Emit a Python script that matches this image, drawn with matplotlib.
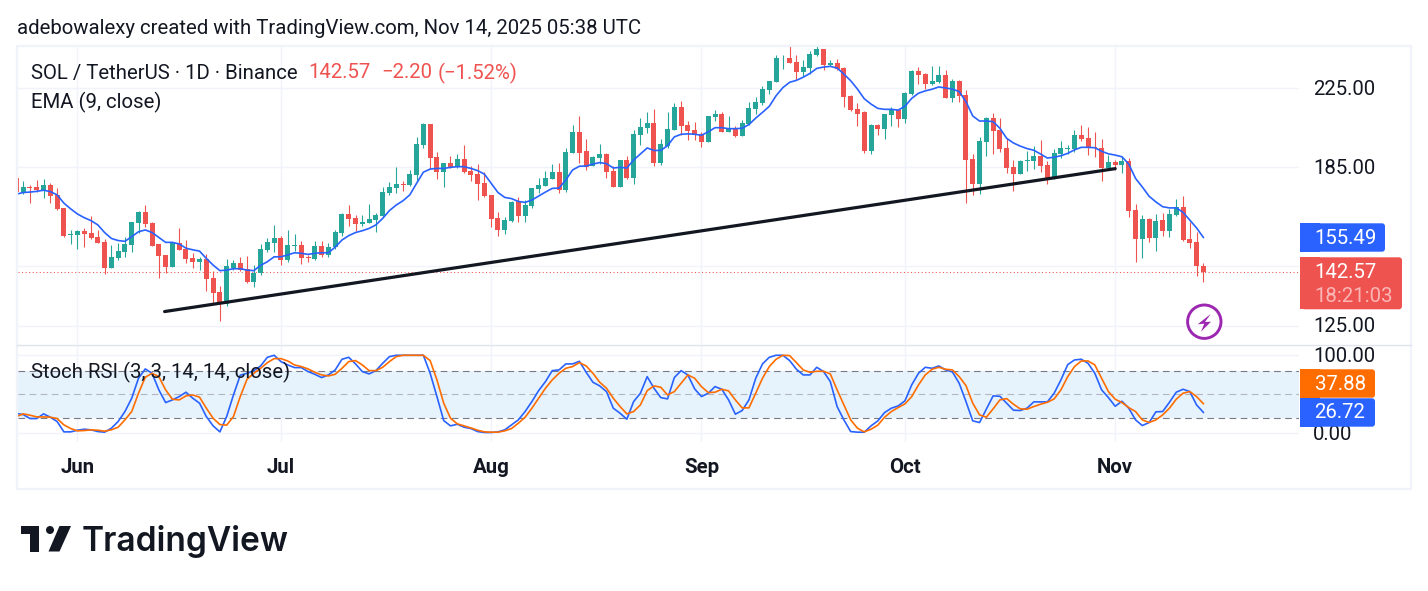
import numpy as np
import matplotlib
matplotlib.use("Agg")
import matplotlib.pyplot as plt
from matplotlib.patches import Rectangle, FancyBboxPatch, Circle, Polygon
from matplotlib.transforms import ScaledTranslation

plt.rcParams['font.family'] = ['Roboto', 'DejaVu Sans']

# days relative to Jun 1, 2025
first_day = -9

opens = [180.0,173.9,176.3,176.2,174.8,177.0,172.8,167.4,156.6,156.6,
         158.0,157.2,155.7,153.6,144.1,147.7,149.9,152.6,161.3,165.6,
         161.2,152.8,148.9,144.5,153.3,151.1,147.7,146.3,147.4,140.6,
         135.9,131.9,144.3,146.1,143.8,139.3,142.3,150.8,153.4,155.3,
         147.0,152.4,152.6,148.1,147.4,152.2,148.9,151.7,157.2,164.8,
         163.2,160.8,161.2,162.3,163.9,173.6,175.7,177.5,177.0,181.5,
         195.5,206.0,189.8,182.9,186.9,185.2,188.9,183.3,182.0,178.0,
         172.8,163.2,158.4,162.0,170.2,163.9,168.1,175.3,176.6,179.8,
         182.9,174.9,191.6,202.0,192.5,185.6,189.3,191.2,183.3,176.2,
         188.4,180.2,200.5,203.9,206.5,186.9,195.2,203.0,214.8,205.5,
         203.0,201.0,197.0,209.5,211.1,202.0,203.9,200.0,206.0,213.8,
         217.0,224.1,228.6,242.3,242.5,240.1,234.3,236.6,244.3,247.9,
         238.4,239.5,236.6,220.8,213.8,212.2,192.5,205.5,203.5,210.6,
         213.2,208.5,221.9,234.9,233.1,227.5,228.6,232.6,219.7,229.2,
         221.4,188.9,177.5,197.0,208.9,203.0,194.1,185.2,182.0,187.9,
         187.9,190.3,186.1,180.2,191.2,193.6,193.6,200.5,199.0,194.6,
         194.1,184.7,187.5,186.1,187.9,166.4,154.9,162.8,155.3,162.4,
         158.0,164.4,167.6,154.9,153.7,144.77]
closes = [174.2,176.2,175.9,174.9,177.0,172.3,166.9,156.2,156.8,158.0,
          157.0,155.1,153.4,144.1,148.0,150.4,153.0,161.6,165.6,160.8,
          152.2,148.5,144.6,153.5,150.9,147.4,146.3,147.4,140.3,135.4,
          131.9,144.8,146.1,143.4,139.3,142.5,151.1,153.7,155.3,147.0,
          152.6,152.6,147.7,147.7,152.2,148.9,151.9,157.6,164.8,162.8,
          160.8,161.6,162.8,164.4,174.0,176.2,177.5,177.0,182.0,196.0,
          206.0,189.3,182.9,186.9,185.2,188.9,182.9,181.5,177.5,172.3,
          162.9,158.4,162.4,169.8,163.9,168.5,175.7,177.0,180.2,182.9,
          174.9,192.1,202.0,191.9,185.2,189.8,191.2,182.9,176.2,188.4,
          180.2,201.0,204.4,206.5,186.9,196.0,203.5,214.8,204.9,202.4,
          200.5,197.0,210.1,211.1,202.0,203.6,200.0,206.5,214.3,217.5,
          224.6,229.2,242.5,242.7,239.5,234.3,237.2,244.9,247.9,238.4,
          239.5,236.0,220.2,213.2,211.1,192.5,205.5,203.5,211.1,213.8,
          208.5,222.5,234.9,232.6,227.5,229.2,232.6,219.7,229.2,220.8,
          188.4,177.5,197.5,208.9,202.4,193.6,184.7,182.0,187.9,188.4,
          190.3,185.6,180.2,191.6,194.1,194.1,200.5,198.5,194.1,194.1,
          184.7,187.5,186.1,187.9,166.0,154.9,162.8,155.3,162.0,158.0,
          164.8,167.6,154.5,153.4,144.8,142.57]
highs = [180.0,178.9,177.0,179.3,179.6,177.8,175.6,167.4,158.4,158.4,
         159.0,164.0,158.4,154.8,152.6,153.3,155.5,161.7,165.9,168.5,
         161.6,152.8,149.0,153.8,159.0,154.5,149.5,148.0,149.3,143.2,
         137.9,147.3,147.0,148.0,148.5,145.1,152.9,155.1,160.4,156.0,
         158.4,156.8,154.1,148.9,154.1,154.1,153.3,158.4,165.3,168.5,
         164.4,164.4,168.9,165.1,176.2,178.4,185.2,178.9,183.8,199.3,
         206.5,206.0,192.1,186.9,190.3,191.2,195.5,185.6,186.4,182.9,
         172.8,165.6,163.6,170.2,171.9,170.6,175.7,180.2,183.3,186.5,
         186.9,194.1,205.5,210.1,198.5,190.3,196.0,191.6,185.6,188.4,
         190.3,203.0,209.0,212.2,213.8,198.5,212.2,217.0,218.1,207.5,
         207.0,202.0,210.1,213.2,212.2,210.1,204.9,208.0,217.5,220.2,
         226.4,229.2,244.3,244.3,249.8,244.3,241.3,246.7,249.8,247.9,
         241.3,241.9,237.2,221.4,217.0,212.7,206.0,206.0,211.1,214.8,
         213.8,223.0,235.5,237.2,233.7,237.8,237.8,235.5,230.1,229.7,
         224.1,191.2,199.5,209.4,211.7,209.0,199.0,188.4,188.4,192.5,
         195.0,198.0,187.9,193.6,197.5,195.5,203.0,205.5,204.4,202.0,
         198.5,190.7,188.4,190.3,189.3,168.9,164.4,163.2,164.8,165.2,
         166.9,170.9,172.3,161.7,157.5,145.9]
lows = [174.2,173.2,169.3,174.2,171.6,169.3,166.5,155.8,152.8,151.1,
        151.9,154.8,153.4,142.1,144.1,147.0,148.2,149.9,157.4,159.7,
        152.2,140.6,142.5,144.5,150.8,146.0,144.1,143.4,136.3,132.3,
        126.4,131.3,143.4,143.1,139.0,137.6,141.7,149.9,149.8,145.2,
        146.4,150.3,145.5,146.4,147.1,148.2,148.1,151.1,156.0,160.0,
        158.0,160.0,161.0,157.6,163.7,172.8,173.6,174.4,176.7,178.6,
        194.2,184.1,179.8,176.2,184.7,184.7,182.4,178.9,170.6,171.7,
        159.7,156.2,157.0,161.7,161.6,161.7,167.4,173.6,176.6,179.8,
        173.6,174.0,191.6,186.9,183.8,185.6,186.5,180.2,176.2,176.2,
        179.8,177.5,195.5,201.4,185.6,186.1,194.1,203.0,200.5,198.0,
        198.0,194.5,197.0,207.5,202.0,201.8,199.5,200.0,205.5,211.1,
        215.9,221.9,228.6,236.0,239.3,229.7,232.0,233.1,243.7,235.5,
        237.8,235.5,215.0,212.7,204.9,191.6,191.2,200.5,198.5,204.9,
        204.4,206.5,221.4,227.5,224.6,227.0,228.1,219.7,217.5,217.5,
        169.3,172.8,173.2,190.3,191.2,192.1,182.4,174.4,181.9,183.3,
        184.2,182.9,177.5,179.8,189.3,191.2,192.1,197.5,190.7,189.8,
        178.9,183.8,183.8,182.4,163.6,146.3,147.7,153.7,150.3,156.0,
        155.7,164.0,154.1,151.5,141.4,139.1]
ema9 = [173.1,173.8,174.0,174.3,174.8,174.2,172.8,169.3,166.9,164.8,
        163.3,162.1,160.4,157.4,155.1,154.3,154.0,155.8,157.7,158.4,
        157.4,155.5,153.6,153.6,153.0,151.4,150.8,150.3,147.6,145.2,
        143.2,143.4,143.9,143.9,143.4,143.2,145.1,146.4,148.2,148.2,
        148.9,149.7,149.5,149.1,149.5,149.7,149.7,151.8,154.5,156.2,
        157.4,158.1,159.0,160.4,163.0,166.2,168.5,170.3,172.8,177.8,
        182.8,184.2,184.5,184.5,185.0,185.3,185.3,184.5,183.5,181.9,
        177.8,173.8,171.7,171.2,170.0,169.6,170.6,172.3,174.0,175.6,
        175.7,179.3,183.8,185.5,185.6,186.5,187.2,186.7,184.7,185.0,
        184.7,188.4,191.2,194.1,192.9,192.9,195.2,199.5,200.8,201.0,
        200.8,200.3,202.0,204.1,204.1,203.6,203.6,203.8,205.7,209.0,
        212.0,215.2,220.9,225.4,228.4,229.5,231.3,233.5,236.4,237.2,
        237.6,236.6,233.1,229.3,224.6,219.3,216.4,214.1,213.6,213.6,
        213.2,215.2,219.5,222.3,223.6,224.5,225.8,225.2,224.6,223.2,
        217.7,210.1,207.5,207.5,207.2,203.8,198.8,196.5,195.0,193.8,
        193.0,191.2,189.3,189.7,190.4,191.5,193.2,194.4,194.4,194.2,
        192.5,191.3,190.7,189.9,186.5,180.0,176.2,172.2,169.8,167.8,
        167.3,167.3,165.5,162.3,159.2,155.49]
stoch_k = [25.2,23.9,18.8,18.8,24.8,20.5,15.0,1.7,1.7,3.8,
           5.1,4.3,2.1,1.3,6.4,15.0,27.8,44.9,70.5,82.5,
           76.9,55.6,39.3,42.7,47.0,52.6,44.9,38.5,21.4,9.4,
           1.7,21.4,49.1,74.4,76.9,80.3,86.3,97.4,100,91.9,
           87.6,84.2,84.2,79.1,75.6,71.4,74.8,81.2,94.9,97.4,
           88.9,79.1,76.1,80.3,89.7,98.3,100,100,100,100,
           100,76.9,47.0,16.2,9.4,11.5,7.7,6.0,2.1,0.9,
           0.9,1.7,4.3,10.7,17.1,27.8,40.6,54.7,66.2,80.3,
           81.2,88.9,88.9,92.3,78.2,65.4,60.7,53.4,32.1,25.6,
           17.9,40.6,51.3,72.6,57.7,45.7,44.0,71.4,80.3,74.8,
           56.8,47.0,51.3,59.8,56.4,42.7,24.4,29.1,42.7,70.5,
           88.9,97.4,100,100,93.2,82.1,74.8,74.8,84.6,79.1,
           66.2,34.2,17.1,2.1,1.3,1.3,9.4,15.8,26.5,32.1,
           35.0,41.5,62.0,76.9,84.6,83.3,86.3,81.2,78.6,64.1,
           40.6,15.8,13.7,30.8,47.9,47.4,38.5,29.5,29.1,32.1,
           40.2,40.2,40.2,51.3,68.4,88.0,94.0,94.9,89.7,76.9,
           55.6,45.7,34.6,41.0,32.1,17.1,9.8,13.7,27.4,27.8,
           39.7,52.6,56.4,53.4,36.3,26.72]
stoch_d = [21.4,24.8,23.1,20.9,20.9,20.5,18.8,10.7,6.0,3.0,
           3.4,4.3,3.8,2.6,4.3,7.7,17.1,27.8,51.3,71.8,
           76.9,72.6,55.6,43.6,42.7,47.9,49.1,46.2,32.1,19.2,
           11.1,10.3,21.4,47.0,69.2,76.9,83.3,90.6,95.7,95.7,
           92.7,87.6,85.5,82.5,78.2,74.8,73.5,75.6,83.3,91.9,
           93.2,87.6,80.3,80.3,84.6,91.9,98.3,100,100,100,
           100,93.2,68.4,38.5,19.2,12.0,9.4,6.8,3.8,1.7,
           1.3,1.3,3.0,6.0,12.8,20.5,32.1,44.9,57.7,68.4,
           76.9,83.3,85.5,90.6,86.3,76.9,65.4,57.7,44.9,34.2,
           24.8,27.8,36.3,54.7,60.7,59.0,49.1,53.4,64.1,74.8,
           70.5,59.8,52.1,52.6,56.4,54.3,42.7,32.5,32.5,51.3,
           70.5,85.5,94.9,100,99.6,90.6,81.2,78.2,79.5,79.5,
           76.1,55.6,36.3,17.1,6.4,1.7,5.1,10.3,20.5,27.8,
           32.9,37.6,47.0,62.0,74.8,82.1,84.6,82.1,81.2,72.6,
           61.1,38.5,23.5,20.5,31.2,42.7,44.4,37.2,31.2,30.8,
           34.2,37.2,39.7,44.0,55.6,72.6,85.5,92.7,92.7,87.6,
           70.5,53.4,43.6,39.3,32.9,27.8,17.1,13.7,17.1,23.5,
           32.1,43.6,51.3,53.4,47.0,37.88]

month_days = [0, 30, 61, 92, 122, 153]
month_names = ["Jun", "Jul", "Aug", "Sep", "Oct", "Nov"]
price_ticks = [125, 145, 185, 225]
price_labels = ["125.00", "", "185.00", "225.00"]
stoch_ticks = [0, 100]
stoch_labels = ["0.00", "100.00"]
trend_days = [12.85, 153]
trend_prices = [129.4, 184.4]

GREEN = "#26A69A"
RED = "#EF5350"
BLUE = "#2962FF"
ORANGE = "#FF6D00"
GRID = "#F0F3FA"
INK = "#131722"
SIZE = 14.65

W, H = 1428, 591
days = np.arange(len(closes)) + first_day
opens, closes, highs, lows = map(np.array, (opens, closes, highs, lows))
up = closes >= opens
colors = np.where(up, GREEN, RED)

fig = plt.figure(figsize=(W / 100, H / 100), dpi=100, facecolor="white")


def pane(left, top, right, bottom):
    return fig.add_axes([left / W, 1 - bottom / H, (right - left) / W, (bottom - top) / H])


def nudge_labels(labels, px):
    for lab in labels:
        lab.set_transform(lab.get_transform() + ScaledTranslation(0, px / 100, fig.dpi_scale_trans))


# candles with the EMA on a log price scale
ax = pane(17.5, 46, 1299, 344)
ax.set_yscale("log")
ax.vlines(days, lows, highs, colors=colors, lw=0.8, zorder=3)
ax.bar(days, np.maximum(np.abs(closes - opens), 0.25), bottom=np.minimum(opens, closes),
       width=0.74, color=colors, linewidth=0, zorder=3)
ax.plot(days, ema9, color=BLUE, lw=1.2, zorder=4)
ax.plot(trend_days, trend_prices, color=INK, lw=2.3, solid_capstyle="round", zorder=5)
ax.axhline(closes[-1], color=RED, lw=0.75, ls=(0, (1, 2.4)), zorder=2)
ax.set_xlim(-8.84, 180.1)
ax.set_ylim(119.4, 249.9)
ax.set_yticks(price_ticks)
ax.set_yticklabels(price_labels)
ax.minorticks_off()
ax.set_xticks(month_days)
ax.tick_params(axis="x", length=0, labelbottom=False)
ax.yaxis.tick_right()
ax.tick_params(axis="y", length=0, pad=10.2, labelsize=SIZE, labelcolor=INK)
ax.grid(True, color=GRID, lw=1.0, zorder=0)
ax.set_axisbelow(True)
for s in ax.spines.values():
    s.set_visible(False)
nudge_labels(ax.get_yticklabels(), 0.7)

# stochastic RSI pane
ax2 = pane(17.5, 345, 1299, 442)
ax2.axhspan(20, 80, color="#E6F3FD", lw=0, zorder=1)
ax2.axhline(80, color="#787B86", lw=0.8, ls=(0, (6, 4)), zorder=2)
ax2.axhline(50, color="#B2B5BE", lw=0.8, ls=(0, (6, 4)), zorder=2)
ax2.axhline(20, color="#787B86", lw=0.8, ls=(0, (6, 4)), zorder=2)
ax2.plot(days, stoch_k, color=BLUE, lw=1.2, zorder=3)
ax2.plot(days, stoch_d, color=ORANGE, lw=1.2, zorder=4)
ax2.set_xlim(-8.84, 180.1)
# pane spans 345-442 px, with 0 and 100 at 433.3 and 355.3
ax2.set_ylim(-11.3, 113.2)
ax2.set_yticks(stoch_ticks)
ax2.set_yticklabels(stoch_labels)
ax2.yaxis.tick_right()
ax2.tick_params(axis="y", length=0, pad=10.2, labelsize=SIZE, labelcolor=INK)
ax2.set_xticks(month_days)
ax2.set_xticklabels(month_names, fontweight="bold", fontsize=SIZE, color=INK)
ax2.tick_params(axis="x", length=0, pad=11.2)
ax2.grid(True, color=GRID, lw=1.0, zorder=0)
ax2.set_axisbelow(True)
for s in ax2.spines.values():
    s.set_visible(False)
nudge_labels(ax2.get_yticklabels(), 0.8)

# page furniture drawn in pixel coordinates
top = fig.add_axes([0, 0, 1, 1], zorder=10)
top.set_xlim(0, W)
top.set_ylim(H, 0)
top.axis("off")
top.patch.set_alpha(0)

top.add_patch(Rectangle((17, 45.5), 1394, 443.5, fill=False, ec=GRID, lw=1.6))
top.plot([17, 1411], [344.5, 344.5], color="#E0E3EB", lw=1.0)


def tag(y0, y1, x1, color):
    top.add_patch(Rectangle((1300, y0), 20, y1 - y0, fc=color, lw=0))
    top.add_patch(FancyBboxPatch((1304, y0 + 2), x1 - 1306, y1 - y0 - 4, boxstyle="round,pad=2,rounding_size=3",
                                 fc=color, lw=0))


tag(223.3, 251.7, 1385, BLUE)
tag(257.3, 309.3, 1402, RED)
tag(369.3, 397.7, 1375, ORANGE)
tag(398.3, 426.7, 1375, BLUE)
top.text(1314.5, 238.5, f"{ema9[-1]:.2f}", color="white", fontsize=SIZE, va="center")
top.text(1314.5, 272.5, f"{closes[-1]:.2f}", color="white", fontsize=SIZE, va="center")
top.text(1314.5, 296.5, "18:21:03", color="#FAB6B5", fontsize=SIZE, va="center")
top.text(1314.5, 384.5, f"{stoch_d[-1]:.2f}", color="white", fontsize=SIZE, va="center")
top.text(1314.5, 412.5, f"{stoch_k[-1]:.2f}", color="white", fontsize=SIZE, va="center")

top.text(17, 28, "adebowalexy created with TradingView.com, Nov 14, 2025 05:38 UTC", color=INK, fontsize=SIZE, va="center")
top.text(31, 73, "SOL / TetherUS · 1D · Binance", color=INK, fontsize=SIZE, va="center")
top.text(308.5, 73, f"{closes[-1]:.2f}", color=RED, fontsize=SIZE, va="center")
top.text(381, 73, "−2.20", color=RED, fontsize=SIZE, va="center")
top.text(438, 73, "(−1.52%)", color=RED, fontsize=SIZE, va="center")
top.text(31, 102, "EMA (9, close)", color=INK, fontsize=SIZE, va="center")
top.text(31, 372, "Stoch RSI (3, 3, 14, 14, close)", color=INK, fontsize=SIZE, va="center")

# lightning badge
top.add_patch(Circle((1204.3, 321.7), 16.7, fill=False, ec="#9C27B0", lw=2.1))
top.add_patch(Polygon([(1210.7, 314), (1197.7, 324.3), (1204.3, 323.7), (1201, 331.7), (1211, 321.7), (1205, 322)],
                      fc="#9C27B0", lw=0))

# logo and wordmark
top.add_patch(Polygon([(20.5, 526), (38.5, 526), (38.5, 551.5), (29.5, 551.5), (29.5, 534), (20.5, 534)], fc=INK, lw=0))
top.add_patch(Circle((50, 530), 4, fc=INK, lw=0))
top.add_patch(Polygon([(59.5, 526), (71, 526), (59.5, 551.5), (48.5, 551.5)], fc=INK, lw=0))
top.text(82, 542, "TradingView", color=INK, fontsize=24.1, family="Inter", fontweight="semibold", va="center")

fig.savefig("out.png", dpi=100, facecolor="white")
